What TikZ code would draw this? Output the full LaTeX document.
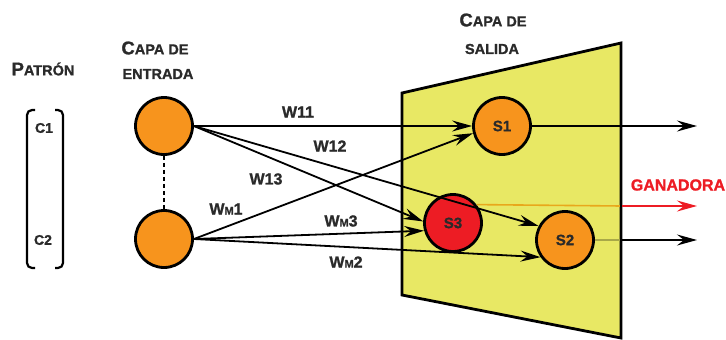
\documentclass[tikz,border=0pt]{standalone}
\usepackage{fontspec}
\setmainfont{Liberation Sans}[BoldFeatures={FakeBold=1.2}]
\usetikzlibrary{arrows.meta}
\definecolor{orng}{HTML}{F7941D}
\definecolor{ylw}{HTML}{E8E864}
\definecolor{rd}{HTML}{ED1C24}
\definecolor{txt}{HTML}{2A2A2A}
\definecolor{olv}{HTML}{A8A848}
\definecolor{gold}{HTML}{E8A81C}
\newcommand{\bigsc}[2]{{\fontsize{18.5}{20}\selectfont #1}{\fontsize{14.5}{16}\selectfont #2}}
\newcommand{\smm}{{\fontsize{11}{12}\selectfont M}}
\begin{document}
\begin{tikzpicture}[x=1pt,y=-1pt,
  neuron/.style={circle,draw=black,line width=2.8pt,fill=orng,minimum size=57pt,inner sep=0pt,font=\fontsize{15}{16}\selectfont\bfseries,text=txt},
  conn/.style={line width=1.8pt,-{Stealth[length=20pt,width=11pt,inset=7pt]}},
  wlab/.style={font=\fontsize{16}{17}\selectfont\bfseries,text=txt,inner sep=0pt},
  ttl/.style={font=\bfseries,text=txt,inner sep=0pt},
  brk/.style={line width=2.2pt,rounded corners=5pt}]
\useasboundingbox (0,0) rectangle (726,340);
% output layer
\draw[line width=2.8pt,fill=ylw,line join=miter] (402,93) -- (621,43) -- (621,338) -- (402,295) -- cycle;
% titles
\node[ttl] (tp) at (43,69) {\bigsc{P}{ATRÓN}};
\node[ttl] (te1) at (155,48) {\bigsc{C}{APA DE}};
\node[ttl] (te2) at (158,74) {{\fontsize{14.5}{16}\selectfont ENTRADA}};
\node[ttl] (ts1) at (493,20) {\bigsc{C}{APA DE}};
\node[ttl] (ts2) at (492,49) {{\fontsize{14.5}{16}\selectfont SALIDA}};
% pattern bracket
\draw[brk] (35,110) -- (27,110) -- (27,268) -- (35,268);
\draw[brk] (55,110) -- (63,110) -- (63,268) -- (55,268);
\node[ttl] (c1) at (44,128) {{\fontsize{14}{15}\selectfont C1}};
\node[ttl] (c2) at (43,240) {{\fontsize{14}{15}\selectfont C2}};
% neurons
\node[neuron] (i1) at (164,126) {};
\node[neuron] (i2) at (164,239) {};
\node[neuron] (s1) at (502,126) {S1};
\node[neuron,fill=rd] (s3) at (453,223) {S3};
\node[neuron] (s2) at (565,240) {S2};
\draw[line width=2.2pt,dash pattern=on 4pt off 3pt] (i1.south) -- (i2.north);
% connectors
\draw[conn] (i1.east) -- (s1.west);
\draw[conn] (i1.east) -- (s2.152);
\draw[conn] (i1.east) -- (s3.177);
\draw[conn] (i2.east) -- (s1.194);
\draw[conn] (i2.east) -- (s3.195);
\draw[conn] (i2.east) -- (s2.215);
% weight labels
\node[wlab] (w11) at (298,112) {W11};
\node[wlab] (w12) at (330,146) {W12};
\node[wlab] (w13) at (266,179) {W13};
\node[wlab] (wm1) at (226,209) {W\smm1};
\node[wlab] (wm3) at (341,221) {W\smm3};
\node[wlab] (wm2) at (346,262) {W\smm2};
% outputs
\coordinate (o1) at (697,126);
\coordinate (e3) at (621,206);
\coordinate (o3) at (697,206);
\coordinate (e2) at (621,240);
\coordinate (o2) at (697,240);
\draw[conn] (s1.east) -- (o1);
\draw[gold,line width=1.6pt] (s3.38) -- (e3);
\draw[conn,rd] (e3) -- (o3);
\draw[olv,line width=1.6pt] (s2.east) -- (e2);
\draw[conn] (e2) -- (o2);
\draw[line width=2.8pt] (621,43) -- (621,338);
\node[wlab,text=rd] (gan) at (678,185) {{\fontsize{16}{17}\selectfont GANADORA}};
\end{tikzpicture}
\end{document}
